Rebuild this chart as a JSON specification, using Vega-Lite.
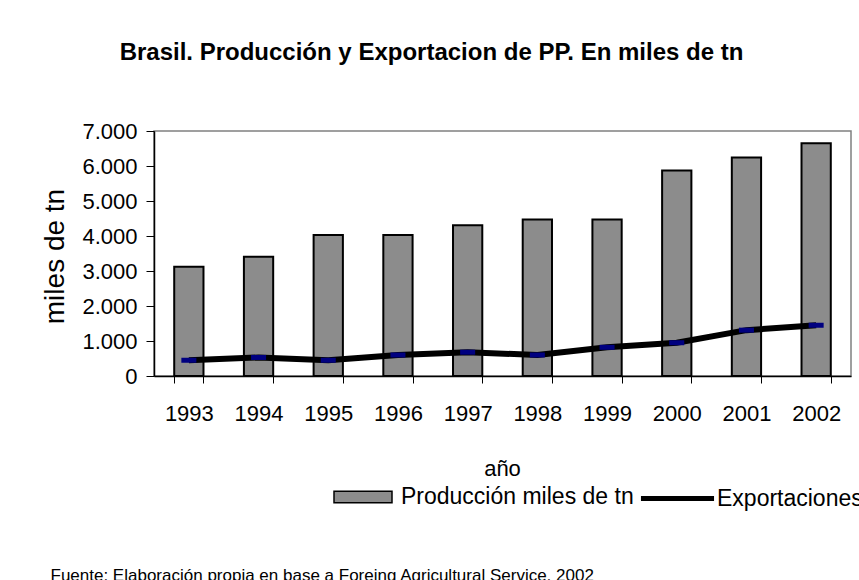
{
  "$schema": "https://vega.github.io/schema/vega-lite/v6.json",
  "width": 697,
  "height": 245,
  "autosize": {"type": "none"},
  "padding": {"left": 154, "top": 131, "right": 8, "bottom": 204},
  "background": "white",
  "title": {
    "text": "Brasil. Producción y Exportacion de PP. En miles de tn",
    "font": "Liberation Sans",
    "fontSize": 24,
    "fontWeight": "bold",
    "color": "black",
    "anchor": "middle",
    "frame": "group",
    "dx": -71,
    "dy": 10,
    "baseline": "alphabetic",
    "offset": 46
  },
  "data": {
    "values": [
      {"year": "1993", "prod": 3120, "exp": 450},
      {"year": "1994", "prod": 3410, "exp": 530},
      {"year": "1995", "prod": 4030, "exp": 450},
      {"year": "1996", "prod": 4030, "exp": 600},
      {"year": "1997", "prod": 4310, "exp": 680},
      {"year": "1998", "prod": 4470, "exp": 600},
      {"year": "1999", "prod": 4470, "exp": 820},
      {"year": "2000", "prod": 5870, "exp": 950},
      {"year": "2001", "prod": 6240, "exp": 1310},
      {"year": "2002", "prod": 6650, "exp": 1450}
    ]
  },
  "layer": [
    {
      "mark": {"type": "bar", "stroke": "black", "strokeWidth": 2},
      "encoding": {
        "x": {
          "field": "year", "type": "ordinal",
          "scale": {"paddingInner": 0.58, "paddingOuter": 0.29},
          "axis": {
            "orient": "bottom",
            "title": "año",
            "labelAngle": 0,
            "labelFontSize": 22,
            "tickBand": "extent",
            "tickSize": 7,
            "labelPadding": 20,
            "titleFontSize": 22,
            "titleBaseline": "alphabetic",
            "titleY": 99,
            "titleX": 348
          }
        },
        "y": {
          "field": "prod", "type": "quantitative",
          "scale": {"domain": [0, 7000], "nice": false},
          "axis": {
            "values": [0, 1000, 2000, 3000, 4000, 5000, 6000, 7000],
            "format": ",d",
            "labelOverlap": false,
            "labelFlush": false,
            "title": "miles de tn",
            "labelFontSize": 22,
            "tickSize": 8,
            "labelPadding": 9,
            "titleFontSize": 28,
            "titleBaseline": "alphabetic",
            "titleX": -91,
            "titleY": 125,
            "titleAlign": "center"
          }
        },
        "fill": {
          "datum": "Producción miles de tn",
          "scale": {"domain": ["Producción miles de tn"], "range": ["#8c8c8c"]},
          "legend": {
            "title": null,
            "orient": "none",
            "legendX": 179,
            "legendY": 336,
            "padding": 0,
            "symbolType": "M-1,-0.2H1V0.2H-1Z",
            "symbolSize": 3364,
            "symbolStrokeColor": "black",
            "symbolStrokeWidth": 1.5,
            "symbolOpacity": 1,
            "labelFontSize": 23,
            "labelColor": "black",
            "labelOffset": 8,
            "labelLimit": 400
          }
        }
      }
    },
    {
      "mark": {"type": "line", "strokeWidth": 6},
      "encoding": {
        "x": {
          "field": "year", "type": "ordinal",
          "axis": {
            "orient": "bottom",
            "title": "Fuente: Elaboración propia en base a Foreing Agricultural Service, 2002",
            "labels": false,
            "ticks": false,
            "domain": false,
            "titleFontSize": 17,
            "titleAlign": "left",
            "titleAnchor": null,
            "titleBaseline": "alphabetic",
            "titleX": -104,
            "titleY": 204
          }
        },
        "y": {
          "field": "exp", "type": "quantitative",
          "axis": {
            "values": [0, 1000, 2000, 3000, 4000, 5000, 6000, 7000],
            "format": ",d",
            "labelOverlap": false,
            "labelFlush": false,
            "title": "miles de tn",
            "labelFontSize": 22,
            "tickSize": 8,
            "labelPadding": 9,
            "titleFontSize": 28,
            "titleBaseline": "alphabetic",
            "titleX": -91,
            "titleY": 125,
            "titleAlign": "center"
          }
        },
        "stroke": {
          "datum": "Exportaciones",
          "scale": {"domain": ["Exportaciones"], "range": ["black"]},
          "legend": {
            "title": null,
            "orient": "none",
            "legendX": 492,
            "legendY": 336,
            "padding": 0,
            "symbolType": "M-1.26,0H1.26",
            "symbolSize": 3364,
            "symbolStrokeWidth": 5,
            "symbolOpacity": 1,
            "labelFontSize": 23,
            "labelColor": "black",
            "labelOffset": 8,
            "labelLimit": 400
          }
        }
      }
    },
    {
      "mark": {"type": "tick", "color": "#000080", "size": 15, "thickness": 5, "opacity": 1},
      "encoding": {
        "x": {"field": "year", "type": "ordinal", "axis": null},
        "y": {
          "field": "exp", "type": "quantitative",
          "axis": {
            "values": [0, 1000, 2000, 3000, 4000, 5000, 6000, 7000],
            "format": ",d",
            "labelOverlap": false,
            "labelFlush": false,
            "title": "miles de tn",
            "labelFontSize": 22,
            "tickSize": 8,
            "labelPadding": 9,
            "titleFontSize": 28,
            "titleBaseline": "alphabetic",
            "titleX": -91,
            "titleY": 125,
            "titleAlign": "center"
          }
        }
      }
    }
  ],
  "resolve": {"axis": {"x": "independent"}},
  "config": {
    "font": "Liberation Sans",
    "view": {"stroke": "#808080", "strokeWidth": 1.5},
    "axis": {
      "domainColor": "black",
      "domainWidth": 1.5,
      "tickColor": "black",
      "tickWidth": 1,
      "labelColor": "black",
      "titleColor": "black",
      "titleFontWeight": "normal",
      "grid": false
    },
    "locale": {
      "number": {"decimal": ",", "thousands": ".", "grouping": [3], "currency": ["", ""]}
    }
  }
}
